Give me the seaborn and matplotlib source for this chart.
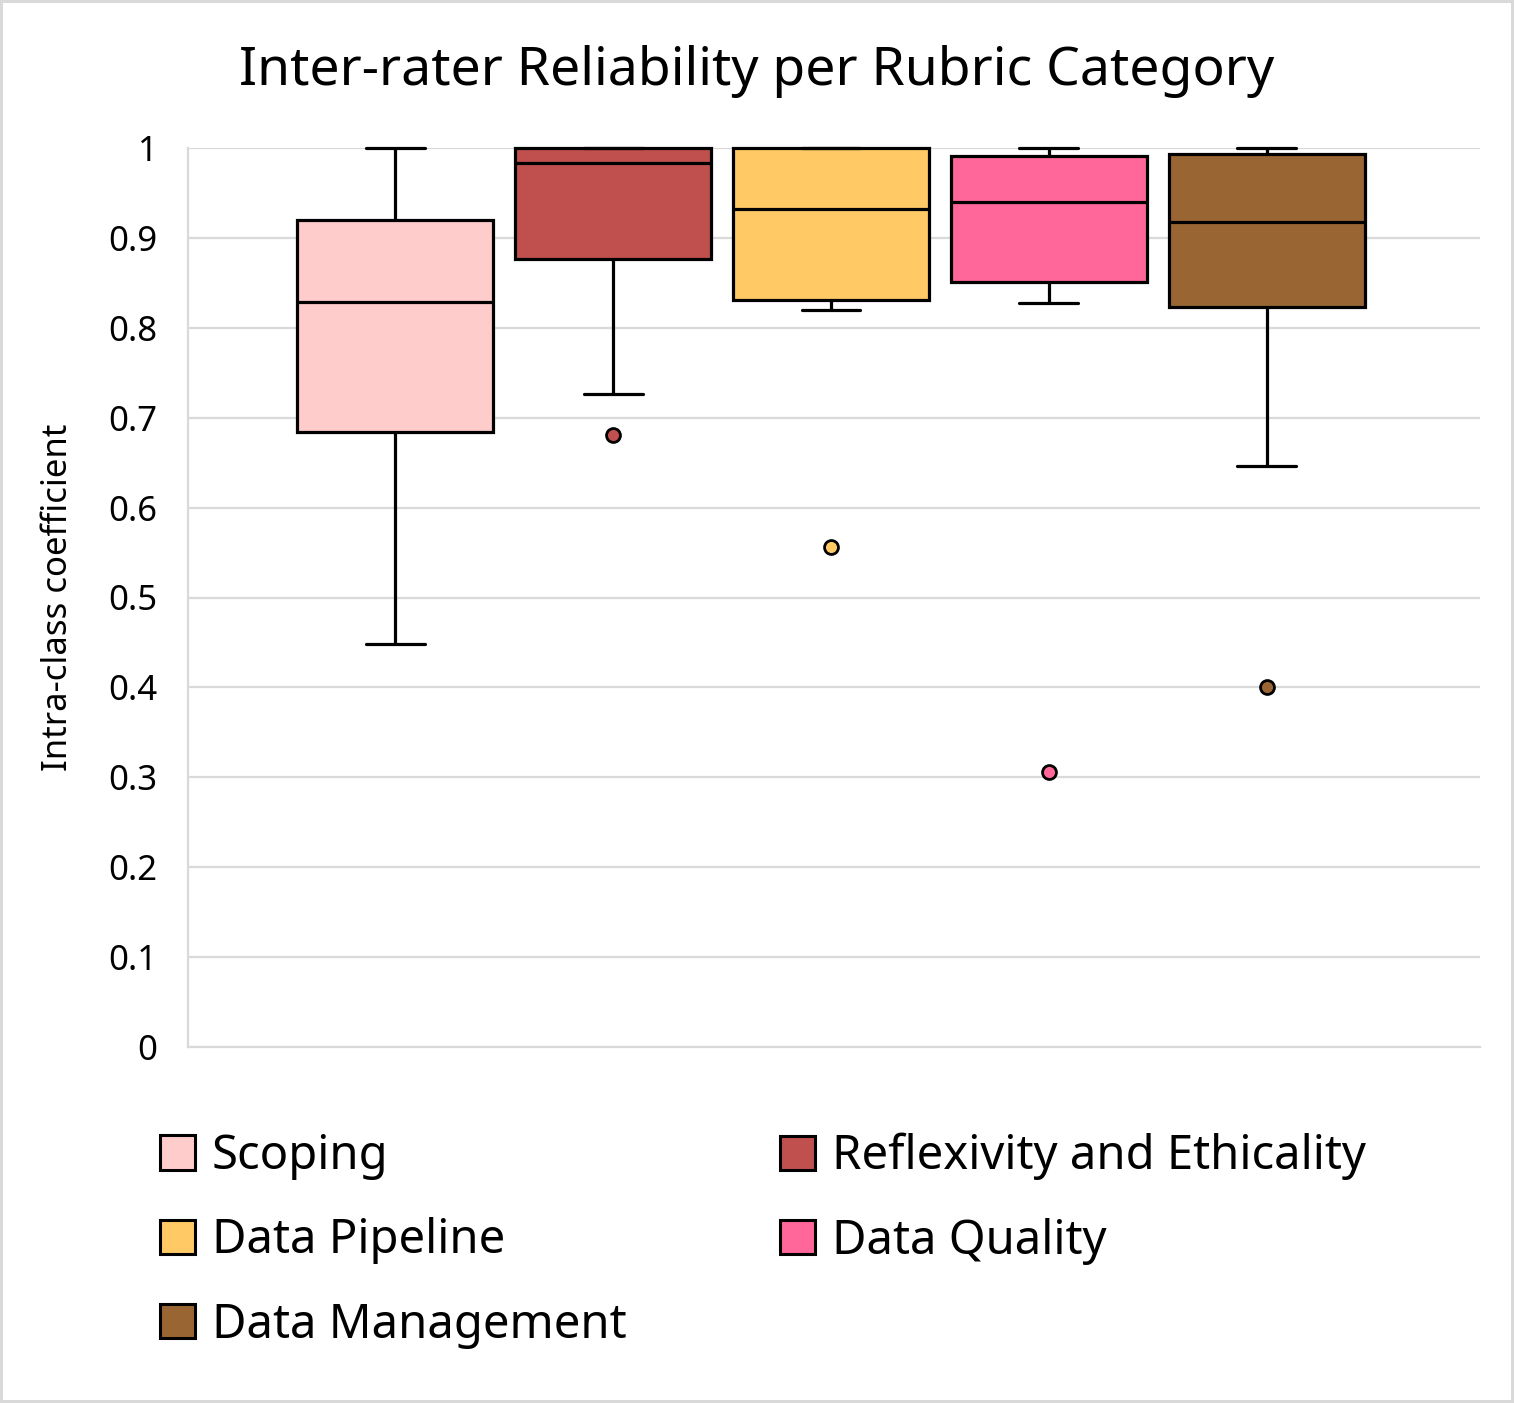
import numpy as np
import pandas as pd
import matplotlib.pyplot as plt
from matplotlib.patches import Patch
import seaborn as sns

# rubric categories and box colours (Excel-like palette)
categories = ["Scoping", "Reflexivity and Ethicality", "Data Pipeline",
              "Data Quality", "Data Management"]
colors = ["#FFCCCC", "#C0504D", "#FFC966", "#FF6699", "#996633"]

# ICC values per category
scoping = [0.448, 0.600, 0.684, 0.760, 0.829, 0.880, 0.920, 0.960, 1.000]
reflexivity = [0.681, 0.726, 0.877, 0.930, 0.983, 0.990, 1.000, 1.000, 1.000]
pipeline = [0.556, 0.820, 0.831, 0.880, 0.932, 0.970, 1.000, 1.000, 1.000]
quality = [0.306, 0.828, 0.851, 0.900, 0.940, 0.970, 0.991, 0.996, 1.000]
management = [0.400, 0.646, 0.823, 0.870, 0.918, 0.960, 0.993, 0.997, 1.000]

y_ticks = [0, 0.1, 0.2, 0.3, 0.4, 0.5, 0.6, 0.7, 0.8, 0.9, 1]
y_ticklabels = ["0", "0.1", "0.2", "0.3", "0.4", "0.5", "0.6", "0.7", "0.8", "0.9", "1"]

sns.set_theme(style="whitegrid")
plt.rcParams["font.family"] = ["Noto Sans", "DejaVu Sans"]
plt.rcParams["text.color"] = "black"
plt.rcParams["axes.labelcolor"] = "black"
plt.rcParams["ytick.color"] = "black"
plt.rcParams["xtick.color"] = "black"

df = pd.DataFrame({
    "category": np.repeat(categories, 9),
    "icc": np.concatenate([scoping, reflexivity, pipeline, quality, management]),
})

W, H = 1514, 1403
fig, ax = plt.subplots(figsize=(W / 100, H / 100), dpi=100)
fig.subplots_adjust(left=188 / W, right=1480 / W, top=1 - 148 / H, bottom=1 - 1047 / H)

for cat, col in zip(categories, colors):
    sns.boxplot(
        data=df[df["category"] == cat], x="category", y="icc", order=categories,
        color=col, saturation=1, width=0.9, linecolor="black", linewidth=2.3,
        capwidths=0.27,
        flierprops=dict(marker="o", markersize=10, markerfacecolor=col,
                        markeredgecolor="black", markeredgewidth=2),
        ax=ax,
    )

for art in ax.lines + ax.patches:
    art.set_clip_on(False)

ax.set_xlim(-0.952, 4.98)
ax.set_ylim(0, 1)
ax.set_xticks([])
ax.set_xlabel("")
ax.set_yticks(y_ticks)
ax.set_yticklabels(y_ticklabels, fontsize=25)
ax.tick_params(axis="y", length=0, pad=22)
ax.yaxis.grid(True, color="#d9d9d9", linewidth=1.6)
ax.xaxis.grid(False)
for side in ["top", "right"]:
    ax.spines[side].set_visible(False)
for side in ["left", "bottom"]:
    ax.spines[side].set_color("#d9d9d9")
    ax.spines[side].set_linewidth(1.6)
ax.set_axisbelow(True)
ax.set_ylabel("Intra-class coefficient", fontsize=25, labelpad=24)

fig.text(0.5, 1 - 85 / H, "Inter-rater Reliability per Rubric Category",
         ha="center", va="baseline", fontsize=38.5)

# legend: two fixed columns like the original
handles = [Patch(facecolor=c, edgecolor="black", linewidth=2.2) for c in colors]
leg_kw = dict(loc="upper left", frameon=False, fontsize=34, handlelength=0.74,
              handleheight=0.74, handletextpad=0.36, labelspacing=0.79,
              borderpad=0, borderaxespad=0)
leg1 = fig.legend([handles[0], handles[2], handles[4]],
                  [categories[0], categories[2], categories[4]],
                  bbox_to_anchor=(160 / W, 1 - 1133 / H), **leg_kw)
leg2 = fig.legend([handles[1], handles[3]], [categories[1], categories[3]],
                  bbox_to_anchor=(780 / W, 1 - 1133 / H), **leg_kw)

fig.patch.set_edgecolor("#d9d9d9")
fig.patch.set_linewidth(4.3)

fig.savefig("out.png", dpi=100, edgecolor=fig.get_edgecolor())
